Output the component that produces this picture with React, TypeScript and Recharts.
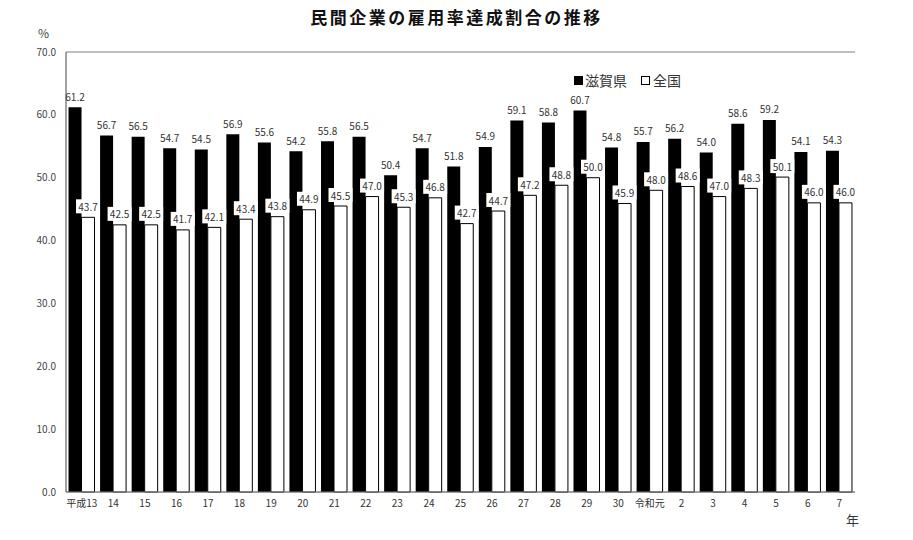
import { BarChart, Bar, XAxis, YAxis, CartesianGrid, LabelList } from "recharts";

const years = [
  "平成13", "14", "15", "16", "17", "18", "19", "20", "21", "22", "23", "24", "25",
  "26", "27", "28", "29", "30", "令和元", "2", "3", "4", "5", "6", "7",
];
const shiga = [
  61.2, 56.7, 56.5, 54.7, 54.5, 56.9, 55.6, 54.2, 55.8, 56.5, 50.4, 54.7, 51.8,
  54.9, 59.1, 58.8, 60.7, 54.8, 55.7, 56.2, 54.0, 58.6, 59.2, 54.1, 54.3,
];
const national = [
  43.7, 42.5, 42.5, 41.7, 42.1, 43.4, 43.8, 44.9, 45.5, 47.0, 45.3, 46.8, 42.7,
  44.7, 47.2, 48.8, 50.0, 45.9, 48.0, 48.6, 47.0, 48.3, 50.1, 46.0, 46.0,
];
const yTicks = [0, 10, 20, 30, 40, 50, 60, 70];

const data = years.map((year, i) => ({ year, shiga: shiga[i], national: national[i] }));

const FONT = '"Noto Sans CJK JP", "Noto Sans", sans-serif';

const ValueLabel = (props: any) => {
  const { x, y, width, value, boxed } = props;
  const cx = x + width / 2;
  const cy = y - 11;
  return (
    <g>
      {boxed && <rect x={cx - 12} y={cy - 7} width={24} height={14} fill="#fff" />}
      <text x={cx} y={cy} textAnchor="middle" dominantBaseline="central" fontSize={10} fill="#333" fontFamily={FONT}>
        {Number(value).toFixed(1)}
      </text>
    </g>
  );
};

export default function App() {
  return (
    <div style={{ position: "absolute", left: 0, top: 0, width: 913, height: 540, background: "#fff", fontFamily: FONT }}>
      <div style={{ position: "absolute", left: 0, width: 913, top: 4, textAlign: "center", fontSize: 17, fontWeight: "bold", letterSpacing: 2.5, color: "#111" }}>
        民間企業の雇用率達成割合の推移
      </div>
      <div style={{ position: "absolute", left: 38, top: 24, fontSize: 12, color: "#444" }}>%</div>
      <div style={{ position: "absolute", left: 846, top: 510, fontSize: 13, color: "#333" }}>年</div>
      <BarChart
        width={913}
        height={540}
        data={data}
        margin={{ top: 52, right: 58, bottom: 18, left: 6 }}
        barCategoryGap="8%"
        barGap={0}
      >
        <CartesianGrid vertical={false} stroke="#7f7f7f" />
        <XAxis
          dataKey="year"
          height={30}
          interval={0}
          tickLine={false}
          tickSize={0}
          tickMargin={8}
          axisLine={{ stroke: "#7f7f7f" }}
          tick={{ fontSize: 10, fill: "#333", fontFamily: FONT }}
        />
        <YAxis
          yAxisId="left"
          width={60}
          domain={[0, 70]}
          ticks={yTicks}
          tickFormatter={(v: number) => v.toFixed(1)}
          tickLine={false}
          tickSize={0}
          tickMargin={10}
          axisLine={{ stroke: "#444" }}
          tick={{ fontSize: 10, fill: "#444", fontFamily: FONT }}
        />
        <YAxis yAxisId="right" orientation="right" width={0} domain={[0, 70]} tick={false} tickLine={false} axisLine={{ stroke: "#7f7f7f" }} />
        <Bar yAxisId="left" dataKey="shiga" name="滋賀県" fill="#000" isAnimationActive={false}>
          <LabelList dataKey="shiga" content={<ValueLabel />} />
        </Bar>
        <Bar yAxisId="left" dataKey="national" name="全国" fill="#fff" stroke="#000" strokeWidth={1} isAnimationActive={false}>
          <LabelList dataKey="national" content={<ValueLabel boxed />} />
        </Bar>
      </BarChart>
      <div style={{ position: "absolute", left: 574, top: 70, display: "flex", alignItems: "center", fontSize: 14, color: "#333" }}>
        <span style={{ width: 9, height: 9, background: "#000", display: "inline-block", marginRight: 2 }} />
        <span>滋賀県</span>
        <span style={{ width: 7, height: 7, border: "1px solid #000", background: "#fff", display: "inline-block", marginLeft: 14, marginRight: 3 }} />
        <span>全国</span>
      </div>
    </div>
  );
}
